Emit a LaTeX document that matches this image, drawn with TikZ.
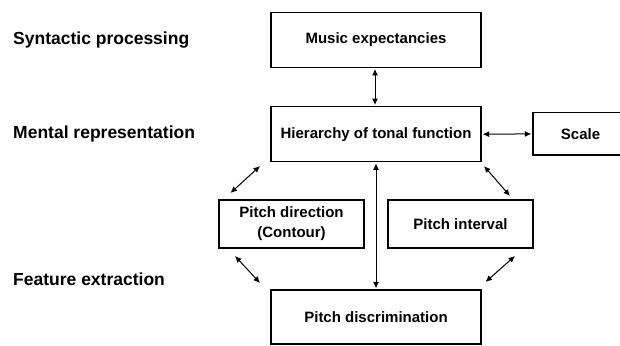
\documentclass[tikz,border=0pt]{standalone}
\usepackage{fontspec}
\setmainfont{Liberation Sans}
\usetikzlibrary{arrows.meta}
\begin{document}
\begin{tikzpicture}[x=1pt,y=-1pt,
  box/.style={draw=black,line width=1.3pt,minimum width=#1,inner sep=0pt,font=\bfseries\fontsize{15}{20}\selectfont,align=center},
  lvl/.style={anchor=west,inner sep=0pt,font=\bfseries\fontsize{17.5}{20}\selectfont},
  link/.style={line width=1pt,{Latex[length=6.5pt,width=6pt]}-{Latex[length=6.5pt,width=6pt]}}]
\useasboundingbox (0,0) rectangle (620,345);
\node[box=210pt,minimum height=55pt] (music) at (376,39.8) {Music expectancies};
\node[box=210pt,minimum height=55pt] (hier) at (376,134.2) {Hierarchy of tonal function};
\node[box=100pt,minimum height=42.3pt] (scale) at (583,133.9) {};
\node[font=\bfseries\fontsize{15}{18}\selectfont] (scalet) at (580.5,134.5) {Scale};
\node[box=145pt,minimum height=48pt] (dir) at (291.5,224) {Pitch direction\\(Contour)};
\node[box=145pt,minimum height=48pt] (int) at (460.5,224) {Pitch interval};
\node[box=210pt,minimum height=54pt] (disc) at (376,317) {Pitch discrimination};
\node[lvl] (syn) at (13,40) {Syntactic processing};
\node[lvl] (men) at (13,134) {Mental representation};
\node[lvl] (fea) at (13,279) {Feature extraction};
\coordinate (a1) at (260,166);
\coordinate (a2) at (230.5,193);
\coordinate (b1) at (484,166);
\coordinate (b2) at (510,196);
\coordinate (c1) at (235,256);
\coordinate (c2) at (260,283);
\coordinate (d1) at (515,256);
\coordinate (d2) at (485.5,282);
\draw[link] ([xshift=-1pt,yshift=-1pt]music.south) -- ([xshift=-1pt,yshift=1pt]hier.north);
\draw[link] ([xshift=1pt]hier.east) -- ([xshift=-1pt]scale.west);
\draw[link] ([yshift=-1pt]hier.south) -- ([yshift=1pt]disc.north);
\draw[link] (a1) -- (a2);
\draw[link] (b1) -- (b2);
\draw[link] (c1) -- (c2);
\draw[link] (d1) -- (d2);
\end{tikzpicture}
\end{document}
